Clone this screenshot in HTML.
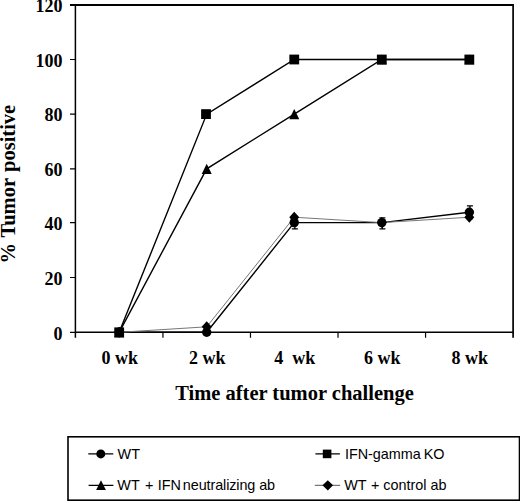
<!DOCTYPE html>
<html><head><meta charset="utf-8"><style>
html,body{margin:0;padding:0;background:#fff;}
svg{display:block;}
.b18{font-family:"Liberation Serif",serif;font-weight:bold;font-size:18px;fill:#000;}
.b20{font-family:"Liberation Serif",serif;font-weight:bold;font-size:20.5px;fill:#000;}
.s14{font-family:"Liberation Sans",sans-serif;font-size:14.4px;fill:#000;}
</style></head><body>
<svg width="520" height="503" viewBox="0 0 520 503">
<rect width="520" height="503" fill="#fff"/>
<path d="M70 5.0H513.1" fill="none" stroke="#000" stroke-width="2"/>
<path d="M513.1 4.0V337.8" fill="none" stroke="#000" stroke-width="1.7"/>
<path d="M75.4 5.0V337.8" fill="none" stroke="#000" stroke-width="1.5"/>
<path d="M75.4 332.3H513.1" fill="none" stroke="#000" stroke-width="1.4"/>
<path d="M70 332.30H75.4M70 277.50H75.4M70 222.60H75.4M70 168.80H75.4M70 114.10H75.4M70 59.50H75.4M162.94 332.3V337.8M250.48 332.3V337.8M338.02 332.3V337.8M425.56 332.3V337.8" fill="none" stroke="#000" stroke-width="1.2"/>
<text x="62.4" y="339.60" text-anchor="end" class="b18">0</text>
<text x="62.4" y="284.80" text-anchor="end" class="b18">20</text>
<text x="62.4" y="229.90" text-anchor="end" class="b18">40</text>
<text x="62.4" y="176.10" text-anchor="end" class="b18">60</text>
<text x="62.4" y="121.40" text-anchor="end" class="b18">80</text>
<text x="62.4" y="66.80" text-anchor="end" class="b18">100</text>
<text x="62.4" y="12.30" text-anchor="end" class="b18">120</text>
<text x="119.67" y="364" text-anchor="middle" class="b18">0 wk</text>
<text x="207.21" y="364" text-anchor="middle" class="b18">2 wk</text>
<text x="294.75" y="364" text-anchor="middle" class="b18">4&#160; wk</text>
<text x="382.29" y="364" text-anchor="middle" class="b18">6 wk</text>
<text x="469.83" y="364" text-anchor="middle" class="b18">8 wk</text>
<text x="294.5" y="400" text-anchor="middle" class="b20">Time after tumor challenge</text>
<text transform="translate(14.6 263.5) rotate(-90)" class="b20">%</text>
<text transform="translate(14.6 237.6) rotate(-90)" class="b20">Tumor</text>
<text transform="translate(14.6 172) rotate(-90)" class="b20">positive</text>
<polyline points="119.17,332.30 206.71,332.30 294.25,222.60 381.79,222.60 469.33,212.20" fill="none" stroke="#000" stroke-width="1.4"/>
<polyline points="119.17,332.30 206.71,114.10 294.25,59.50 381.79,59.50 469.33,59.50" fill="none" stroke="#000" stroke-width="1.4"/>
<polyline points="119.17,332.30 206.71,168.80 294.25,114.10 381.79,59.50 469.33,59.50" fill="none" stroke="#000" stroke-width="1.4"/>
<polyline points="119.17,332.30 206.71,326.82 294.25,217.22 381.79,222.60 469.33,217.22" fill="none" stroke="#777" stroke-width="1"/>
<path d="M294.85 216.40V228.80M291.85 216.40H297.85M291.85 228.80H297.85M382.39 217.85V228.80M379.39 217.85H385.39M379.39 228.80H385.39M469.93 205.80V218.60M466.93 205.80H472.93M466.93 218.60H472.93" fill="none" stroke="#000" stroke-width="1.3"/>
<g fill="#000"><circle cx="119.17" cy="332.30" r="4.7"/><rect x="114.27" y="327.40" width="9.8" height="9.8"/><path d="M119.17 327.20L124.17 337.40H114.17Z"/><path d="M119.17 326.80L124.17 332.30L119.17 337.80L114.17 332.30Z"/><circle cx="206.71" cy="332.30" r="4.7"/><rect x="201.11" y="109.20" width="9.8" height="9.8"/><path d="M206.71 163.70L211.71 173.90H201.71Z"/><path d="M206.71 321.32L211.71 326.82L206.71 332.32L201.71 326.82Z"/><circle cx="294.25" cy="222.60" r="4.7"/><rect x="289.35" y="54.60" width="9.8" height="9.8"/><path d="M294.25 109.00L299.25 119.20H289.25Z"/><path d="M294.25 211.72L299.25 217.22L294.25 222.72L289.25 217.22Z"/><circle cx="381.79" cy="222.60" r="4.7"/><rect x="376.89" y="54.60" width="9.8" height="9.8"/><path d="M381.79 54.40L386.79 64.60H376.79Z"/><path d="M381.79 217.10L386.79 222.60L381.79 228.10L376.79 222.60Z"/><circle cx="469.33" cy="212.20" r="4.7"/><rect x="464.43" y="54.60" width="9.8" height="9.8"/><path d="M469.33 54.40L474.33 64.60H464.33Z"/><path d="M469.33 211.72L474.33 217.22L469.33 222.72L464.33 217.22Z"/></g>
<rect x="68" y="436.8" width="451.5" height="63.4" fill="none" stroke="#000" stroke-width="1.6"/>
<path d="M88.3 453.9H113.3M88.6 485.3H113.4M315.4 453.9H339.9" stroke="#000" stroke-width="1.3"/>
<path d="M314.8 485.3H340.2" stroke="#555" stroke-width="1"/>
<g fill="#000"><circle cx="100.80" cy="453.90" r="4.5"/><rect x="322.80" y="449.60" width="8.6" height="8.6"/><path d="M101.00 480.30L105.90 489.90H96.10Z"/><path d="M327.80 480.20L333.10 485.30L327.80 490.40L322.50 485.30Z"/></g>
<text x="117.6" y="458.8" class="s14">WT</text>
<text x="344.9" y="458.8" class="s14">IFN-gamma<tspan dx="-1.2"> KO</tspan></text>
<text x="117.3" y="490.0" class="s14">WT<tspan dx="1.5"> +</tspan><tspan dx="0.4"> IFN</tspan><tspan dx="-1.95" letter-spacing="-0.1"> neutralizing ab</tspan></text>
<text x="344.2" y="490.0" class="s14">WT<tspan dx="0.8"> + </tspan><tspan dx="-0.3">control ab</tspan></text>
</svg>
</body></html>
